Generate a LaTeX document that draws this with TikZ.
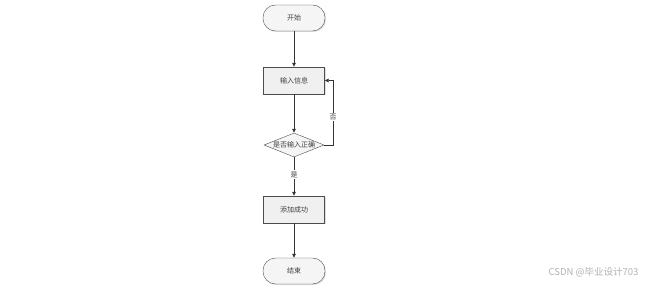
\documentclass[tikz,border=0pt]{standalone}
\usepackage{fontspec}
\setmainfont{Noto Sans CJK SC}
\usetikzlibrary{arrows.meta,shapes.geometric,shadows}
\begin{document}
\begin{tikzpicture}[x=1pt,y=-1pt,
  every node/.style={font=\fontsize{7}{8}\selectfont, text=black!75},
  term/.style={draw=black!70, rectangle, rounded corners=12.5pt, minimum width=62pt, minimum height=26pt, fill=black!4, drop shadow={shadow xshift=1pt,shadow yshift=-1pt,opacity=0.25}},
  proc/.style={draw=black!70, rectangle, minimum width=61pt, minimum height=27pt, fill=black!6, drop shadow={shadow xshift=1pt,shadow yshift=-1pt,opacity=0.25}},
  dec/.style={draw=black!70, diamond, aspect=2.5, minimum width=60pt, minimum height=24pt, inner sep=0pt, fill=black!4},
  conn/.style={draw=black!80, line width=0.7pt, -{Triangle[length=4pt,width=3.5pt]}},
  lbl/.style={fill=white, inner sep=1pt}]
\useasboundingbox (0,0) rectangle (652,288);
\fill[white] (0,0) rectangle (652,288);
\node[term] (start) at (294,18) {开始};
\node[proc] (input) at (294,80.5) {输入信息};
\node[dec] (check) at (294,145) {是否输入正确};
\node[proc] (add) at (294,209.5) {添加成功};
\node[term] (end) at (294,271) {结束};
\coordinate (c1) at (333,145);
\coordinate (c2) at (333,80.5);
\draw[conn] (start) -- (input);
\draw[conn] (input) -- (check);
\draw[conn] (check) -- node[lbl, pos=0.45] {是} (add);
\draw[conn] (add) -- (end);
\draw[conn] (check.east) -- (c1) -- node[lbl, pos=0.43] {否} (c2) -- (input.east);
\node[font=\fontsize{9.5}{10}\selectfont, text=black!30, anchor=east] (wm) at (642,272) {CSDN @毕业设计703};
\end{tikzpicture}
\end{document}
